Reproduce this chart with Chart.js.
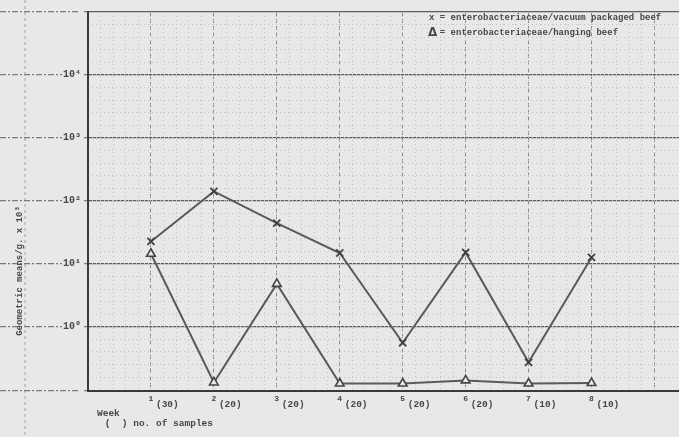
<!DOCTYPE html>
<html>
<head>
<meta charset="utf-8">
<script src="https://cdn.jsdelivr.net/npm/chart.js@4"></script>
<style>
  html, body { margin: 0; padding: 0; background: #e8e8e6; }
  canvas { display: block; }
</style>
</head>
<body>
<canvas id="c" width="679" height="437"></canvas>
<script>
// ---- data ----
const weeks = [1, 2, 3, 4, 5, 6, 7, 8];
const sampleCounts = ['(30)', '(20)', '(20)', '(20)', '(20)', '(20)', '(10)', '(10)'];
const vacuumBeef = [22.6, 141, 44.3, 14.8, 0.556, 15.1, 0.271, 12.6];
const hangingBeef = [14.4, 0.13, 4.79, 0.125, 0.125, 0.14, 0.125, 0.127];
const yTickValues = [0.095, 1, 10, 100, 1000, 10000, 100000];
const yTickLabels = { 1: '10⁰', 10: '10¹', 100: '10²', 1000: '10³', 10000: '10⁴' };
const seriesLabels = ['enterobacteriaceae/vacuum packaged beef', 'enterobacteriaceae/hanging beef'];
const legendSymbols = ['x', 'Δ'];
const yTitle = 'Geometric means/g. x 10³';
const xTitle = ['Week', ' (  ) no. of samples'];

const PAPER = '#e8e8e6';
const INK = '#474747';
const MONO = '"Liberation Mono", "DejaVu Sans Mono", monospace';

const paperPlugin = {
  id: 'paper',
  beforeDraw(chart) {
    const { ctx, width, height, scales } = chart;
    ctx.save();
    ctx.fillStyle = PAPER;
    ctx.fillRect(0, 0, width, height);
    const xl = scales.x.getPixelForValue(-1);
    ctx.strokeStyle = '#a0a0a0';
    ctx.lineWidth = 1;
    ctx.setLineDash([3, 3]);
    ctx.beginPath();
    ctx.moveTo(xl, 0);
    ctx.lineTo(xl, height);
    ctx.stroke();
    ctx.restore();
  },
  afterDraw(chart) {
    const { ctx, scales } = chart;
    ctx.save();
    ctx.fillStyle = INK;
    ctx.font = 'bold 9px ' + MONO;
    ctx.textAlign = 'center';
    ctx.textBaseline = 'middle';
    ctx.translate(20, 271);
    ctx.rotate(-Math.PI / 2);
    ctx.fillText(yTitle, 0, 0);
    ctx.restore();

    ctx.save();
    ctx.fillStyle = INK;
    ctx.font = 'bold 8px ' + MONO;
    ctx.textAlign = 'left';
    ctx.textBaseline = 'alphabetic';
    weeks.forEach((w) => {
      ctx.fillText(String(w), scales.x.getPixelForValue(w) - 2.5, 401);
    });
    ctx.font = 'bold 9.5px ' + MONO;
    ctx.textBaseline = 'middle';
    ctx.fillText(xTitle[0], 97, 414);
    ctx.fillText(xTitle[1], 99, 424);
    const lx = 429, ly = [18, 33];
    seriesLabels.forEach((lab, i) => {
      if (i === 1) {
        ctx.font = 'bold 12px "DejaVu Sans", sans-serif';
        ctx.fillText(legendSymbols[i], lx - 1, ly[i]);
      } else {
        ctx.font = 'bold 9px ' + MONO;
        ctx.fillText(legendSymbols[i], lx, ly[i]);
      }
      ctx.font = 'bold 9px ' + MONO;
      ctx.fillText(' = ' + lab, lx + 5.4, ly[i]);
    });
    ctx.restore();
  }
};

const xMax = 9.39;

new Chart(document.getElementById('c'), {
  type: 'line',
  data: {
    datasets: [
      {
        label: seriesLabels[0],
        xAxisID: 'x', yAxisID: 'y',
        data: weeks.map((w, i) => ({ x: w, y: vacuumBeef[i] })),
        borderColor: '#5a5a5a',
        borderWidth: 2,
        pointStyle: 'crossRot',
        pointRadius: 5,
        pointBorderWidth: 1.8,
        pointBorderColor: '#404040',
        fill: false,
        tension: 0
      },
      {
        label: seriesLabels[1],
        xAxisID: 'x', yAxisID: 'y',
        data: weeks.map((w, i) => ({ x: w, y: hangingBeef[i] })),
        borderColor: '#5a5a5a',
        borderWidth: 2,
        pointStyle: 'triangle',
        pointRadius: 5,
        pointBorderWidth: 1.6,
        pointBorderColor: '#454545',
        pointBackgroundColor: PAPER,
        fill: false,
        tension: 0
      }
    ]
  },
  options: {
    responsive: false,
    animation: false,
    layout: { autoPadding: false, padding: { top: 12, right: 0, left: 0, bottom: 0 } },
    plugins: { legend: { display: false }, tooltip: { enabled: false } },
    scales: {
      x: {
        type: 'linear', position: 'bottom', min: 0, max: xMax,
        afterBuildTicks(s) { s.ticks = [0].concat(weeks, [9]).map(v => ({ value: v })); },
        afterFit(s) { s.height = 46; s.paddingLeft = 0; s.paddingRight = 0; },
        ticks: {
          align: 'start',
          labelOffset: 5,
          padding: 8,
          color: INK,
          font: { family: MONO, size: 9.5, weight: 'bold' },
          callback: (v) => { const i = weeks.indexOf(v); return i >= 0 ? sampleCounts[i] : ''; }
        },
        grid: { color: '#8a8a8a', lineWidth: 1, drawTicks: false },
        border: { display: true, color: '#3a3a3a', width: 2, dash: [4, 3] }
      },
      y: {
        type: 'logarithmic', position: 'left', min: 0.095, max: 100000,
        afterBuildTicks(s) { s.ticks = yTickValues.map(v => ({ value: v })); },
        afterFit(s) { s.width = 88; s.paddingTop = 0; s.paddingBottom = 0; },
        ticks: {
          padding: -81,
          color: INK,
          font: { family: MONO, size: 10, weight: 'bold' },
          showLabelBackdrop: true,
          backdropColor: PAPER,
          backdropPadding: { left: 1, right: 1, top: 0, bottom: 0 },
          callback: (v) => yTickLabels[v] || ''
        },
        grid: {
          color: '#5e5e5e', lineWidth: 1.3,
          tickLength: 88, tickColor: '#7a7a7a', tickWidth: 1.2, tickBorderDash: [6, 2, 2, 2]
        },
        border: { display: true, color: '#3a3a3a', width: 2 }
      },
      xg: {
        type: 'linear', position: 'bottom', min: 0, max: xMax,
        ticks: { display: false, stepSize: 0.2 },
        grid: { color: '#c2c2c0', lineWidth: 1, drawTicks: false },
        border: { display: false, dash: [1, 3] },
        afterFit(s) { s.height = 0; s.paddingLeft = 0; s.paddingRight = 0; }
      },
      yg: {
        type: 'linear', position: 'left', min: -1.02, max: 5,
        ticks: { display: false, stepSize: 0.2 },
        grid: { color: '#c2c2c0', lineWidth: 1, drawTicks: false },
        border: { display: false, dash: [1, 3] },
        afterFit(s) { s.width = 0; s.paddingTop = 0; s.paddingBottom = 0; }
      }
    }
  },
  plugins: [paperPlugin]
});
</script>
</body>
</html>
